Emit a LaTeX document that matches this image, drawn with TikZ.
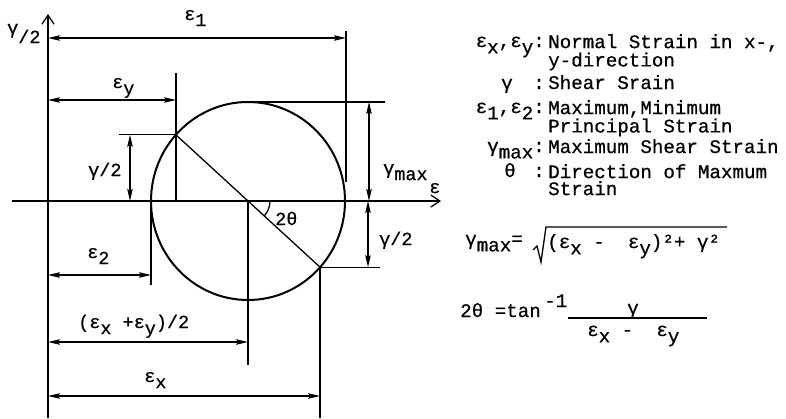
\documentclass[tikz,border=0pt]{standalone}
\usepackage{fontspec}
\newfontfamily\twfont[FakeBold=0.6]{Liberation Mono}
\usetikzlibrary{arrows.meta}
\newcommand\sbx[1]{\raisebox{-0.33em}{#1}}
\begin{document}
\begin{tikzpicture}[x=1pt,y=-1pt,
  ln/.style={line width=1.3pt},
  dim/.style={line width=1.3pt,{Stealth[length=12pt,width=5.5pt,inset=2pt]}-{Stealth[length=12pt,width=5.5pt,inset=2pt]}},
  lab/.style={inner sep=0pt,font=\twfont\fontsize{18.5}{20}\selectfont},
  txt/.style={inner sep=0pt,font=\twfont\fontsize{19.2}{17}\selectfont},
  axarrow/.style={line width=1.3pt,-{Straight Barb[length=9pt,width=12pt]}}
]
\useasboundingbox (0,0) rectangle (786,418);

% key points
\coordinate (C) at (248,201);
\coordinate (P1) at (175.9,134.8);
\coordinate (P2) at (320.1,267.2);

% axes
\coordinate (Ea) at (12,201); \coordinate (Eb) at (441,201);
\draw[axarrow] (Ea) -- (Eb);
\coordinate (Ga) at (48,418); \coordinate (Gb) at (48,14);
\draw[axarrow] (Ga) -- (Gb);
\node[lab,anchor=base west] (lg) at (7,43) {\raisebox{0.5em}{γ}/2};
\node[lab,anchor=base west] (le) at (429,193) {ε};

% circle and diameter
\draw[line width=2pt] (C) ellipse [x radius=97, y radius=99];
\draw[ln] (P1) -- (P2);
\draw[ln] (C) ++(22,0) arc[start angle=0,end angle=42,radius=22];
\node[lab,anchor=base west] (l2t) at (275,225) {2θ};

% epsilon_1
\coordinate (e1t) at (346,31); \coordinate (e1b) at (346,182);
\draw[ln] (e1t) -- (e1b);
\coordinate (e1L) at (48,38); \coordinate (e1R) at (346,38);
\draw[dim] (e1L) -- (e1R);
\node[lab,anchor=base west] (le1) at (184,20) {ε\sbx{1}};

% epsilon_y
\coordinate (eyt) at (176,73); \coordinate (eyb) at (176,201);
\draw[ln] (eyt) -- (eyb);
\coordinate (eyL) at (48,100); \coordinate (eyR) at (176,100);
\draw[dim] (eyL) -- (eyR);
\node[lab,anchor=base west] (ley) at (112,88) {ε\sbx{y}};

% gamma/2 upper
\coordinate (h1a) at (119,134.8);
\draw[ln] (h1a) -- (P1);
\coordinate (g1t) at (130,134.8); \coordinate (g1b) at (130,201);
\draw[dim] (g1t) -- (g1b);
\node[lab,anchor=base west] (lg1) at (88,176) {γ/2};

% gamma max
\coordinate (tpa) at (253,102); \coordinate (tpb) at (385,102);
\draw[ln] (tpa) -- (tpb);
\coordinate (gmt) at (369,102); \coordinate (gmb) at (369,201);
\draw[dim] (gmt) -- (gmb);
\node[lab,anchor=base west] (lgm) at (383,174) {γ\sbx{max}};

% gamma/2 lower
\coordinate (lwb) at (380,267.2);
\draw[ln] (P2) -- (lwb);
\coordinate (g2t) at (368,201); \coordinate (g2b) at (368,267.2);
\draw[dim] (g2t) -- (g2b);
\node[lab,anchor=base west] (lg2) at (379,245) {γ/2};

% epsilon_2
\coordinate (e2t) at (151,201); \coordinate (e2b) at (151,285);
\draw[ln] (e2t) -- (e2b);
\coordinate (e2L) at (48,275); \coordinate (e2R) at (151,275);
\draw[dim] (e2L) -- (e2R);
\node[lab,anchor=base west] (le2) at (87,258) {ε\sbx{2}};

% (ex+ey)/2
\coordinate (cb) at (248,365);
\draw[ln] (C) -- (cb);
\coordinate (mL) at (48,342); \coordinate (mR) at (248,342);
\draw[dim] (mL) -- (mR);
\node[lab,anchor=base west] (lm) at (78,328) {(ε\sbx{x} +ε\sbx{y})/2};

% epsilon_x
\coordinate (exb) at (320.1,418);
\draw[ln] (P2) -- (exb);
\coordinate (exL) at (48,396); \coordinate (exR) at (320.1,396);
\draw[dim] (exL) -- (exR);
\node[lab,anchor=base west] (lex) at (144,382) {ε\sbx{x}};

% legend
\node[txt,anchor=base east] (k1) at (545,47) {ε\sbx{x},ε\sbx{y}:};
\node[txt,anchor=north west,align=left] (d1) at (548,34) {Normal Strain in x-,\\y-direction};
\node[txt,anchor=base west] (k2) at (501,89) {γ};
\node[txt,anchor=base east] (k2c) at (545,89) {:};
\node[txt,anchor=base west] (d2) at (548,89) {Shear Srain};
\node[txt,anchor=base east] (k3) at (545,113) {ε\sbx{1},ε\sbx{2}:};
\node[txt,anchor=north west,align=left] (d3) at (548,100) {Maximum,Minimum\\Principal Strain};
\node[txt,anchor=base east] (k4) at (545,152) {γ\sbx{max}:};
\node[txt,anchor=base west] (d4) at (548,153) {Maximum Shear Strain};
\node[txt,anchor=base west] (k5) at (504,177) {θ};
\node[txt,anchor=base east] (k5c) at (545,177) {:};
\node[txt,anchor=north west,align=left] (d5) at (548,164) {Direction of Maxmum\\Strain};

% formula 1
\node[txt,anchor=base west] (f1a) at (465,245) {γ\sbx{max}=};
\coordinate (r0) at (533,250); \coordinate (r1) at (537,246);
\coordinate (r2) at (541,262); \coordinate (r3) at (546,227);
\coordinate (r4) at (727,227);
\draw[line width=1.3pt] (r0) -- (r1) -- (r2) -- (r3) -- (r4);
\node[txt,anchor=base west] (f1b) at (547,248) {(ε\sbx{x}~-~~ε\sbx{y})²+~γ²};

% formula 2
\node[txt,anchor=base west] (f2a) at (460,317) {2θ~=tan};
\node[txt,anchor=base west] (f2s) at (544,307) {-1};
\coordinate (fl) at (568,318); \coordinate (fr) at (707,318);
\draw[line width=1.3pt] (fl) -- (fr);
\node[txt,anchor=base] (f2n) at (633,314) {γ};
\node[txt,anchor=base west] (f2d) at (587,336) {ε\sbx{x}~-~~ε\sbx{y}};
\end{tikzpicture}
\end{document}
